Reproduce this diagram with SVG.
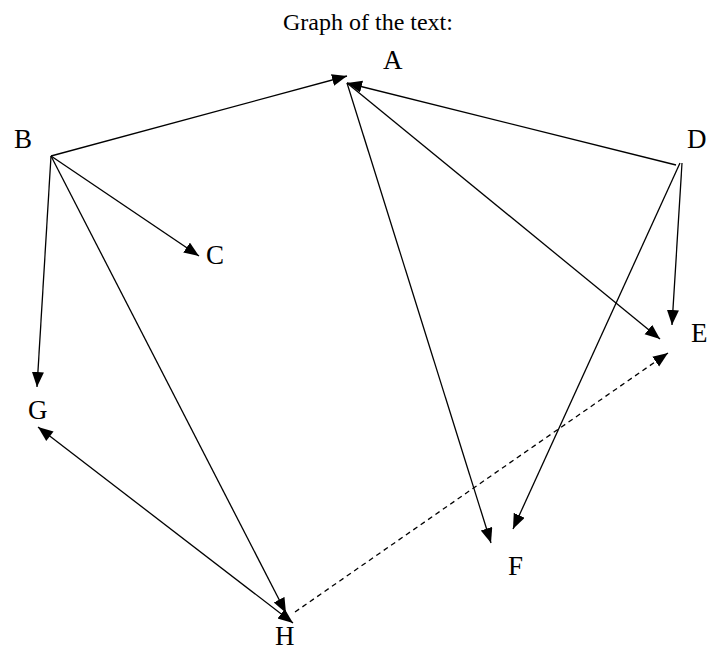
<svg xmlns="http://www.w3.org/2000/svg" width="708" height="651" viewBox="0 0 708 651">
<style>
.lbl{font-family:"Liberation Serif","Times New Roman",serif;font-size:27px;fill:#000}
.title{font-family:"Liberation Serif","Times New Roman",serif;font-size:24px;fill:#000}
.e{stroke:#000;stroke-width:1.3;fill:none;marker-end:url(#ah)}
.dash{stroke-dasharray:5 4}
</style>
<defs>
<marker id="ah" markerUnits="userSpaceOnUse" markerWidth="16" markerHeight="14" refX="15" refY="6" orient="auto">
<path d="M0,0 L15,6 L0,12 z" fill="#000"/>
</marker>
<marker id="ahs" markerUnits="userSpaceOnUse" markerWidth="16" markerHeight="14" refX="0" refY="6" orient="auto">
<path d="M15,0 L0,6 L15,12 z" fill="#000"/>
</marker>
</defs>
<rect width="708" height="651" fill="#fff"/>
<text class="title" x="283" y="30">Graph of the text:</text>
<g id="edges">
<line class="e" x1="51" y1="156" x2="347" y2="76"/>
<line class="e" x1="676" y1="165" x2="347" y2="83"/>
<line class="e" x1="347" y1="83" x2="491" y2="543"/>
<line class="e" x1="347" y1="83" x2="660" y2="339"/>
<line class="e" x1="51" y1="156" x2="199" y2="256"/>
<line class="e" x1="51" y1="156" x2="37" y2="387"/>
<line class="e" x1="51" y1="156" x2="286" y2="613"/>
<line class="e" x1="682" y1="163" x2="672" y2="325"/>
<line class="e" x1="680" y1="163" x2="513" y2="529"/>
<line class="e" x1="38" y1="427" x2="293" y2="623" marker-start="url(#ahs)"/>
<line class="e dash" x1="295" y1="612" x2="668" y2="353"/>
</g>
<g id="A"><text class="lbl" x="383" y="69">A</text></g>
<g id="B"><text class="lbl" x="14" y="148">B</text></g>
<g id="C"><text class="lbl" x="206" y="264">C</text></g>
<g id="D"><text class="lbl" x="687" y="148">D</text></g>
<g id="E"><text class="lbl" x="691" y="342">E</text></g>
<g id="F"><text class="lbl" x="508" y="575">F</text></g>
<g id="G"><text class="lbl" x="28" y="419">G</text></g>
<g id="H"><text class="lbl" x="275" y="645">H</text></g>
</svg>
